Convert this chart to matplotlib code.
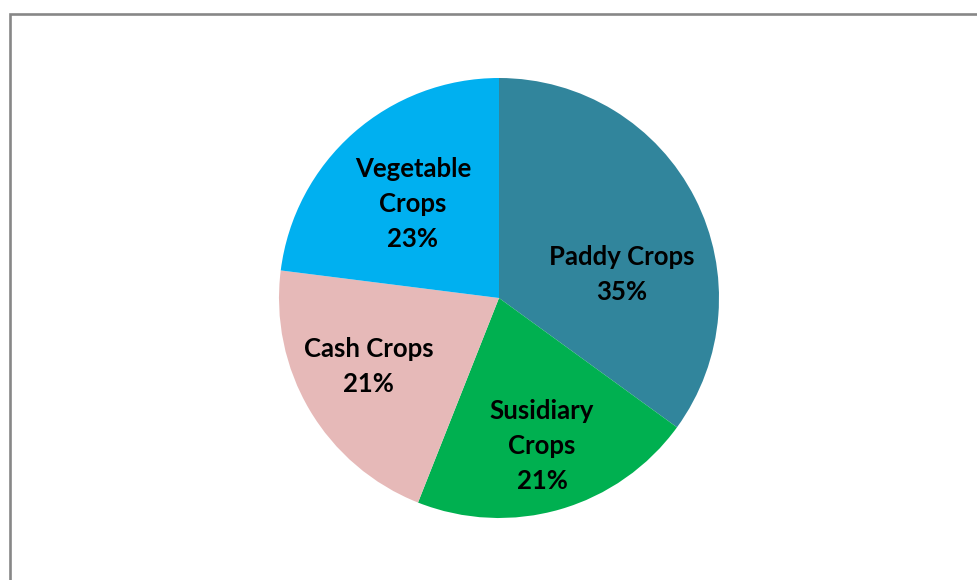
import matplotlib
matplotlib.use("Agg")
import matplotlib.pyplot as plt
from matplotlib.lines import Line2D
import numpy as np

categories = ["Paddy Crops", "Susidiary\nCrops", "Cash Crops", "Vegetable\nCrops"]
values = [35, 21, 21, 23]
colors = ["#31859C", "#00B050", "#E6B9B8", "#00B0F0"]
label_r = [0.57, 0.70, 0.67, 0.58]
label_angle_shift = [-16, 0, -3, 1]

plt.rcParams['font.family'] = ['Lato', 'DejaVu Sans']

fig = plt.figure(figsize=(9.78, 5.8), dpi=100)
ax = fig.add_axes([279/978, 62/580, 440/978, 440/580])
wedges, _ = ax.pie(values, colors=colors, startangle=90, counterclock=False,
                   radius=1, wedgeprops=dict(linewidth=0))
ax.set_xlim(-1, 1)
ax.set_ylim(-1, 1)
ax.set_aspect('equal')
ax.axis('off')

for w, cat, v, r, sh in zip(wedges, categories, values, label_r, label_angle_shift):
    mid = np.deg2rad((w.theta1 + w.theta2) / 2 + sh)
    ax.text(r*np.cos(mid), r*np.sin(mid), f"{cat}\n{v}%", ha='center', va='center',
            fontsize=18.5, fontweight='bold', color='black', linespacing=1.55)

x0 = 9.5/978
y0 = 1 - 13.5/580
fig.add_artist(Line2D([x0, x0, 1.01], [-0.01, y0, y0], transform=fig.transFigure,
                      color='#878787', linewidth=1.9, solid_joinstyle='miter'))

fig.savefig("out.png", dpi=100, facecolor='white')
